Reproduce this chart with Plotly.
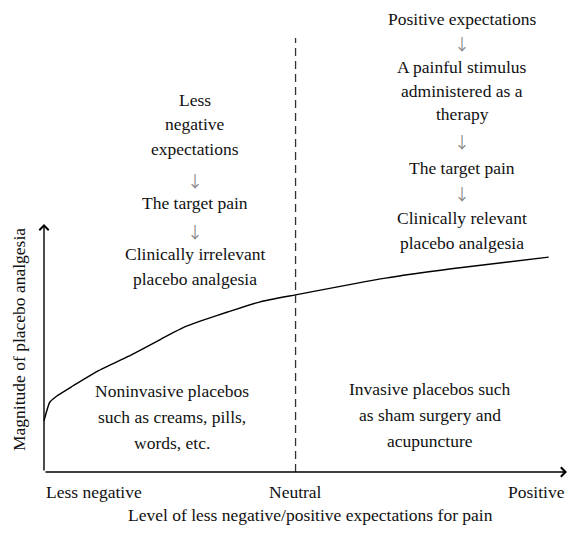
import plotly.graph_objects as go

# ---- data ----
expectation_level = [0, 1.1, 2.4, 5.5, 9.9, 16.2, 22.4, 26.9, 30.0, 35.1, 41.3, 48.1, 65.3, 77.9, 96.5]
analgesia_magnitude = [11.0, 15.0, 16.3, 18.5, 21.5, 24.9, 28.6, 31.2, 32.5, 34.4, 36.6, 38.1, 41.7, 43.7, 46.2]
neutral_level = 48.1
x_tick_labels = ["Less negative", "Neutral", "Positive"]
x_title = "Level of less negative/positive expectations for pain"
y_title = "Magnitude of placebo analgesia"
left_chain = ["Less", "negative", "expectations", "↓", "The target pain", "↓",
              "Clinically irrelevant", "placebo analgesia"]
right_chain = ["Positive expectations", "↓", "A painful stimulus", "administered as a",
               "therapy", "↓", "The target pain", "↓", "Clinically relevant", "placebo analgesia"]
left_bottom = ["Noninvasive placebos", "such as creams, pills,", "words, etc."]
right_bottom = ["Invasive placebos such", "as sham surgery and", "acupuncture"]

# ---- layout helpers (page has an 8px body margin; keep the figure inside the window) ----
OFF = 8
W, H = 560, 519
X0_PX, X100_PX = 44, 567      # screen px of x=0 and x=100
Y0_PX, YSCALE = 472, 4.65     # screen px of y=0, px per unit
XSCALE = (X100_PX - X0_PX) / 100.0

x_lo = (OFF - X0_PX) / XSCALE
x_hi = (OFF + W - X0_PX) / XSCALE
y_hi = (Y0_PX - OFF) / YSCALE
y_lo = (Y0_PX - (OFF + H)) / YSCALE


def dx(px):
    return (px - X0_PX) / XSCALE


def dy(py):
    return (Y0_PX - py) / YSCALE


FONT = "Liberation Serif"
ARROW_FONT = "Noto Sans CJK JP"
FS = 17.5
TXT = "#111111"
ARROW_C = "#8a8a8a"

fig = go.Figure()

fig.add_trace(go.Scatter(
    x=expectation_level, y=analgesia_magnitude, mode="lines",
    line=dict(color="black", width=1.4, shape="spline", smoothing=0.5),
    hoverinfo="skip", showlegend=False))

fig.add_trace(go.Scatter(
    x=[neutral_level, neutral_level], y=[0, dy(38)], mode="lines",
    line=dict(color="#333333", width=1.3, dash="8px,5px"),
    hoverinfo="skip", showlegend=False))

ann = []
# axes with open arrowheads
ann.append(dict(x=100, y=0, ax=0, ay=0, xref="x", yref="y", axref="x", ayref="y",
                text="", showarrow=True, arrowhead=4, arrowsize=1.3, arrowwidth=1.4,
                arrowcolor="black", standoff=0))
ann.append(dict(x=0, y=dy(224), ax=0, ay=0, xref="x", yref="y", axref="x", ayref="y",
                text="", showarrow=True, arrowhead=4, arrowsize=1.3, arrowwidth=1.4,
                arrowcolor="black", standoff=0))


def txt(t, x, y, xanchor="center", angle=0):
    is_arrow = t == "↓"
    ann.append(dict(x=x, y=y, xref="x", yref="y", text=t, showarrow=False,
                    xanchor=xanchor, yanchor="middle", textangle=angle,
                    font=dict(family=ARROW_FONT if is_arrow else FONT,
                              size=16 if is_arrow else FS,
                              color=ARROW_C if is_arrow else TXT)))


def add_lines(lines, cx_px, ys_px):
    for t, py in zip(lines, ys_px):
        txt(t, dx(cx_px), dy(py))


add_lines(left_chain, 195, [100, 124, 149, 180, 203, 231, 254, 279])
add_lines(right_chain, 462, [19, 43, 67, 91, 114, 141, 168, 193, 218, 243])
add_lines(left_bottom, 172, [391, 417, 443])
add_lines(right_bottom, 430, [389, 415, 441])

# tick labels
txt(x_tick_labels[0], 0, dy(492), "left")
txt(x_tick_labels[1], neutral_level, dy(492))
txt(x_tick_labels[2], 100, dy(492), "right")
# axis titles
txt(x_title, dx(310), dy(515))
txt(y_title, dx(19), dy(340), angle=-90)

fig.update_layout(
    width=W, height=H,
    margin=dict(l=0, r=0, t=0, b=0),
    paper_bgcolor="white", plot_bgcolor="white",
    xaxis=dict(range=[x_lo, x_hi], visible=False, fixedrange=True),
    yaxis=dict(range=[y_lo, y_hi], visible=False, fixedrange=True),
    annotations=ann,
    showlegend=False,
)

fig.write_html("out.html")
